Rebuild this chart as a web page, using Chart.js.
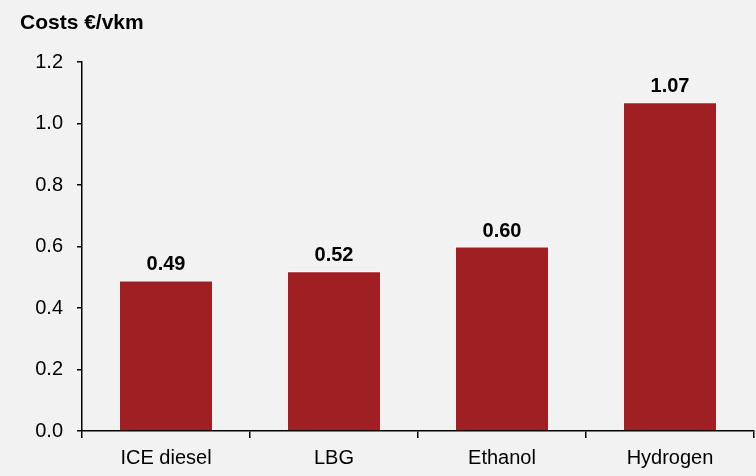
<!DOCTYPE html>
<html><head><meta charset="utf-8">
<script src="https://cdn.jsdelivr.net/npm/chart.js@4/dist/chart.umd.min.js"></script>
<style>html,body{margin:0;padding:0;background:#F2F2F2;}#wrap{width:756px;height:476px;}</style>
</head><body><div id="wrap"><canvas id="c" width="756" height="476"></canvas></div>
<script>
const categories = ["ICE diesel", "LBG", "Ethanol", "Hydrogen"];
const costs = [0.49, 0.52, 0.60, 1.07];
const yTicks = [0, 0.2, 0.4, 0.6, 0.8, 1.0, 1.2];

const FONT = "'Liberation Sans', Arial, sans-serif";

const valueLabels = {
  id: 'valueLabels',
  afterDatasetsDraw(chart) {
    const ctx = chart.ctx;
    const meta = chart.getDatasetMeta(0);
    ctx.save();
    ctx.font = "bold 20px " + FONT;
    ctx.fillStyle = '#000';
    ctx.textAlign = 'center';
    ctx.textBaseline = 'alphabetic';
    meta.data.forEach((bar, i) => {
      ctx.fillText(costs[i].toFixed(2), bar.x, bar.y - 10);
    });
    ctx.restore();
  }
};

const bg = {
  id: 'bg',
  beforeDraw(chart) {
    const ctx = chart.ctx;
    ctx.save();
    ctx.fillStyle = '#F2F2F2';
    ctx.fillRect(0, 0, chart.width, chart.height);
    ctx.restore();
  }
};

new Chart(document.getElementById('c'), {
  type: 'bar',
  data: {
    labels: categories,
    datasets: [{
      data: costs,
      backgroundColor: '#A01F22',
      borderColor: '#FFFFFF',
      borderWidth: 1,
      barPercentage: 0.56,
      categoryPercentage: 1.0
    }]
  },
  options: {
    responsive: false,
    animation: false,
    devicePixelRatio: 1,
    layout: { padding: { left: 20, right: 2, top: 0, bottom: 0 } },
    plugins: {
      legend: { display: false },
      tooltip: { enabled: false },
      title: {
        display: true,
        text: 'Costs €/vkm',
        align: 'start',
        color: '#000',
        font: { family: FONT, size: 21, weight: 'bold' },
        padding: { top: 11, bottom: 26 }
      }
    },
    scales: {
      x: {
        offset: true,
        grid: { offset: true, drawOnChartArea: false, tickLength: 7, color: '#000', lineWidth: 1.5 },
        border: { display: true, color: '#000', width: 1.5 },
        ticks: { color: '#000', font: { family: FONT, size: 20 }, padding: 8, maxRotation: 0 },
        afterFit(s) { s.height = 45; }
      },
      y: {
        min: 0, max: 1.2,
        afterBuildTicks(s) { s.ticks = yTicks.map(v => ({ value: v })); },
        grid: { drawOnChartArea: false, tickLength: 5, color: '#000', lineWidth: 1.5 },
        border: { display: true, color: '#000', width: 1.5 },
        ticks: { color: '#000', font: { family: FONT, size: 20 }, padding: 14,
          callback: v => Number(v).toFixed(1) },
        afterFit(s) { s.width = 62; }
      }
    }
  },
  plugins: [bg, valueLabels]
});
</script></body></html>
